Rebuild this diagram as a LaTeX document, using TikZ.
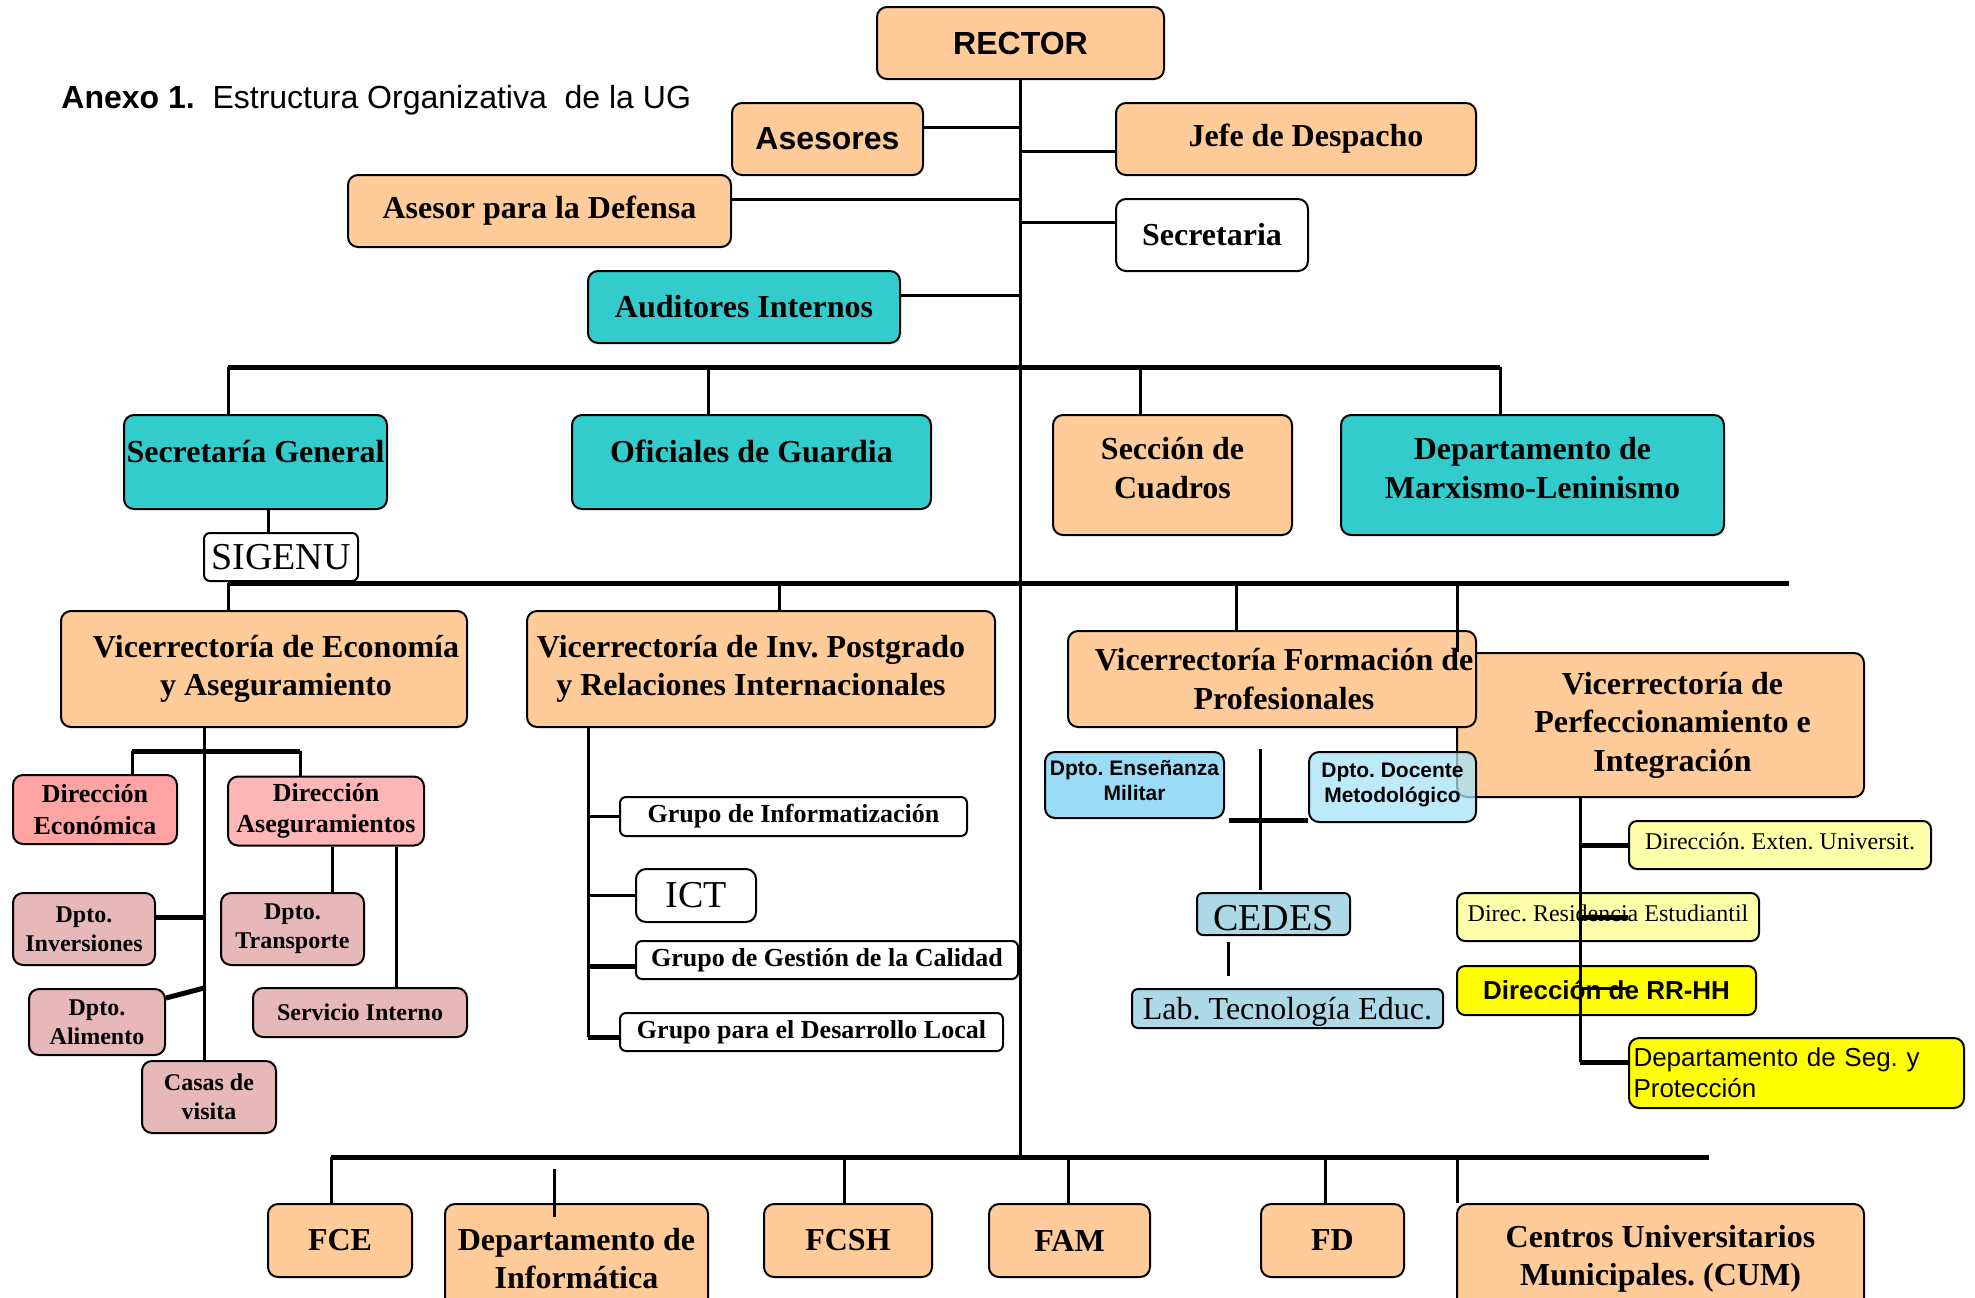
\documentclass[tikz,border=0pt]{standalone}
\usepackage{fontspec}
\setmainfont{Liberation Serif}
\newfontfamily\arialf{Liberation Sans}
\definecolor{peach}{HTML}{FFCC99}
\definecolor{tealc}{HTML}{33CCCC}
\definecolor{cDirEcon}{HTML}{FFA3A3}
\definecolor{cDirAseg}{HTML}{FFB6B6}
\definecolor{cDpto}{HTML}{E6B8B7}
\definecolor{cEns}{HTML}{9ADCF6}
\definecolor{cDoc}{HTML}{A6E3F7}
\definecolor{cCedes}{HTML}{ADD8E6}
\definecolor{cLY}{HTML}{FFFFAA}
\definecolor{cY}{HTML}{FFFF00}
\frenchspacing
\begin{document}
\frenchspacing
\begin{tikzpicture}[x=0.5pt,y=-0.5pt,
  box/.style={draw=black,line width=1pt,rounded corners=5pt,inner sep=1pt,align=center,
              font=\bfseries\fontsize{16}{19.2}\selectfont},
  sz/.style 2 args={minimum width=#1*0.5pt,minimum height=#2*0.5pt},
  pe/.style={fill=peach}, te/.style={fill=tealc}, wh/.style={fill=white},
  sm/.style={font=\bfseries\fontsize{13}{15.6}\selectfont},
  xs/.style={font=\bfseries\fontsize{12}{14.4}\selectfont},
  reg12/.style={font=\fontsize{12}{14.4}\selectfont},
  big19/.style={font=\fontsize{19}{22}\selectfont},
  conn/.style={line width=1.5pt},
  bar/.style={line width=2.5pt},
  thinl/.style={line width=1.1pt}]
\useasboundingbox (0,0) rectangle (1975,1297);
\clip (0,0) rectangle (1975,1297);

\node[anchor=west,inner sep=0pt,font=\arialf\fontsize{16}{19}\selectfont] (title) at (61,100)
  {\textbf{Anexo 1.}\ \ Estructura Organizativa\ \ de la UG};

% top level
\node[box,pe,sz={287}{72},font=\arialf\bfseries\fontsize{16}{19.2}\selectfont] (rector) at (1020.5,43) {RECTOR};
\node[box,pe,sz={191}{72},font=\arialf\bfseries\fontsize{16}{19.2}\selectfont] (asesores) at (827.5,139) {Asesores};
\node[box,pe,sz={383}{72}] (defensa) at (539.5,211) {Asesor para la Defensa};
\node[box,te,sz={312}{72}] (auditores) at (744,307) {Auditores Internos};
\node[box,pe,sz={360}{72}] (jefe) at (1296,139) {\rule{10pt}{0pt}Jefe de Despacho};
\node[box,wh,sz={192}{72}] (secretaria) at (1212,235) {Secretaria};

\node[box,te,sz={263}{94},text height=12pt,text depth=12pt] (secgen) at (255.5,462) {Secretaría General};
\node[box,te,sz={359}{94},text height=12pt,text depth=12pt] (oficiales) at (751.5,462) {Oficiales de Guardia};
\node[box,pe,sz={239}{120}] (seccion) at (1172.5,475) {Sección de\\Cuadros\\[-12pt]\mbox{}};
\node[box,te,sz={383}{120}] (marx) at (1532.5,475) {Departamento de\\Marxismo-Leninismo\\[-12pt]\mbox{}};
\node[box,wh,sz={154}{48},big19,rounded corners=3pt] (sigenu) at (281,557) {SIGENU};

% vicerrectorias
\node[box,pe,sz={406}{116}] (vrecon) at (264,669) {\rule{12pt}{0pt}Vicerrectoría de Economía\\\rule{12pt}{0pt}y Aseguramiento};
\node[box,pe,sz={468}{116}] (vrinv) at (761,669) {Vicerrectoría de Inv. Postgrado\rule{10pt}{0pt}\\y Relaciones Internacionales\rule{10pt}{0pt}};
\node[box,pe,sz={407}{144}] (vrperf) at (1660.5,725) {\rule{12pt}{0pt}Vicerrectoría de\\\rule{12pt}{0pt}Perfeccionamiento e\\\rule{12pt}{0pt}Integración};
\node[box,pe,sz={408}{96}] (vrform) at (1272,679) {\rule{12pt}{0pt}Vicerrectoría Formación de\\\rule{12pt}{0pt}Profesionales};

% economia subtree
\node[box,fill=cDirEcon,sz={164}{69},sm] (direcon) at (95,809.5) {Dirección\\Económica};
\node[box,fill=cDirAseg,sz={196}{69},sm] (diraseg) at (326,811) {Dirección\\Aseguramientos};
\node[box,fill=cDpto,sz={142}{72},xs] (inversiones) at (84,929) {Dpto.\\Inversiones};
\node[box,fill=cDpto,sz={143}{72},xs] (transporte) at (292.5,929) {Dpto.\\Transporte};
\node[box,fill=cDpto,sz={214}{49},xs] (servicio) at (360,1012.5) {Servicio Interno};
\node[box,fill=cDpto,sz={136}{66},xs] (alimento) at (97,1022) {Dpto.\\Alimento};
\node[box,fill=cDpto,sz={134}{72},xs] (casas) at (209,1097) {Casas de\\visita};

% investigacion subtree
\node[box,wh,sz={347}{39},sm,rounded corners=3pt] (info) at (793.5,816.5) {Grupo de Informatización};
\node[box,wh,sz={120}{53},big19] (ict) at (696,895.5) {ICT};
\node[box,wh,sz={382}{38},sm,rounded corners=3pt] (calidad) at (827,960) {Grupo de Gestión de la Calidad};
\node[box,wh,sz={383}{38},sm,rounded corners=3pt] (desarrollo) at (811.5,1032) {Grupo para el Desarrollo Local};

% formacion subtree
\node[box,fill=cEns,sz={179}{66},font=\arialf\bfseries\fontsize{10.5}{12.6}\selectfont] (ensenanza) at (1134.5,785) {Dpto. Enseñanza\\Militar\\[-8pt]\mbox{}};
\node[box,fill=cDoc,fill opacity=0.75,text opacity=1,sz={167}{70},font=\arialf\bfseries\fontsize{10.5}{12.6}\selectfont] (docente) at (1392.5,787) {Dpto. Docente\\Metodológico\\[-8pt]\mbox{}};
\node[box,fill=cCedes,sz={153}{42},big19,rounded corners=3pt,text height=16.5pt,text depth=0pt] (cedes) at (1273.5,914) {CEDES};
\node[box,fill=cCedes,sz={311}{39},font=\fontsize{16}{19}\selectfont,rounded corners=3pt,text depth=0pt] (lab) at (1287.5,1008.5) {Lab. Tecnología Educ.};

% perfeccionamiento subtree
\node[box,fill=cLY,sz={302}{48},reg12,rounded corners=4pt,text height=9pt,text depth=5pt] (exten) at (1780,845) {Dirección. Exten. Universit.};
\node[box,fill=cLY,sz={302}{48},reg12,rounded corners=4pt,text height=9pt,text depth=5pt] (residencia) at (1608,917) {Direc. Residencia Estudiantil};
\node[box,fill=cY,sz={299}{49},font=\arialf\bfseries\fontsize{13}{15.6}\selectfont,rounded corners=4pt] (rrhh) at (1606.5,990.5) {Dirección de RR-HH};
\node[box,fill=cY,sz={335}{70},font=\arialf\fontsize{13}{15.6}\selectfont,text width=163pt,align=left,inner sep=2pt] (seg) at (1796.5,1073) {Departamento de Seg. y\\Protección};

% bottom row
\node[box,pe,sz={144}{73}] (fce) at (340,1240.5) {FCE};
\node[box,pe,sz={263}{109}] (inform) at (576.5,1258.5) {Departamento de\\Informática};
\node[box,pe,sz={168}{73}] (fcsh) at (848,1240.5) {FCSH};
\node[box,pe,sz={161}{73}] (fam) at (1069.5,1240.5) {FAM};
\node[box,pe,sz={143}{73}] (fd) at (1332.5,1240.5) {FD};
\node[box,pe,sz={407}{109}] (cum) at (1660.5,1258.5) {Centros Universitarios\\Municipales. (CUM)};

% ---------- connectors ----------
\coordinate (bB) at (1020.5,1157);
\draw[conn] (rector.south) -- (rector.south|-bB);
\coordinate (tA) at (1020.5,127);
\coordinate (tD) at (1020.5,199);
\coordinate (tI) at (1020.5,295);
\coordinate (tJ) at (1020.5,151);
\coordinate (tS) at (1020.5,222);
\draw[conn] (asesores.east|-tA) -- (tA);
\draw[conn] (defensa.east|-tD) -- (tD);
\draw[conn] (auditores.east|-tI) -- (tI);
\draw[conn] (tJ) -- (jefe.west|-tJ);
\draw[conn] (tS) -- (secretaria.west|-tS);

% bar 1
\coordinate (b1a) at (228,367);
\coordinate (b1b) at (708,367);
\coordinate (b1c) at (1140,367);
\coordinate (b1d) at (1500,367);
\draw[bar] (b1a) -- (b1d);
\draw[conn] (b1a) -- (b1a|-secgen.north);
\draw[conn] (b1b) -- (b1b|-oficiales.north);
\draw[conn] (b1c) -- (b1c|-seccion.north);
\draw[conn] (b1d) -- (b1d|-marx.north);

\coordinate (sg) at (268,0);
\draw[conn] (secgen.south-|sg) -- (sigenu.north-|sg);

% bar 2
\coordinate (b2a) at (228,583);
\coordinate (b2b) at (779,583);
\coordinate (b2c) at (1236,583);
\coordinate (b2d) at (1457,583);
\coordinate (b2e) at (1789,583);
\draw[bar] (b2a) -- (b2e);
\draw[conn] (b2a) -- (b2a|-vrecon.north);
\draw[conn] (b2b) -- (b2b|-vrinv.north);
\draw[conn] (b2c) -- (b2c|-vrform.north);
\draw[conn] (b2d) -- (b2d|-vrperf.north);

% economia
\coordinate (ea) at (204,0);
\draw[conn] (vrecon.south-|ea) -- (casas.north-|ea);
\coordinate (eb1) at (132,751);
\coordinate (eb2) at (300,751);
\draw[bar] (eb1) -- (eb2);
\draw[conn] (eb1) -- (eb1|-direcon.north);
\draw[conn] (eb2) -- (eb2|-diraseg.north);
\coordinate (ei) at (204,917);
\draw[bar] (inversiones.east|-ei) -- (ei);
\coordinate (eal) at (204,988);
\coordinate (eal2) at (0,998);
\draw[bar] (alimento.east|-eal2) -- (eal);
\coordinate (et) at (332,0);
\draw[conn] (diraseg.south-|et) -- (transporte.north-|et);
\coordinate (es) at (396,0);
\draw[conn] (diraseg.south-|es) -- (servicio.north-|es);

% investigacion
\coordinate (ia) at (588,0);
\coordinate (iL) at (588,1037);
\draw[conn] (vrinv.south-|ia) -- (iL);
\draw[bar] (iL) -- (desarrollo.west|-iL);
\draw[thinl] (ia|-info.west) -- (info.west);
\draw[thinl] (ia|-ict.west) -- (ict.west);
\coordinate (ic) at (0,966);
\draw[bar] (ia|-ic) -- (calidad.west|-ic);

% formacion
\coordinate (fa) at (1260,749);
\coordinate (fb) at (1260,890);
\draw[conn] (fa) -- (fb);
\coordinate (fc) at (1229,820);
\draw[bar] (fc) -- (docente.west|-fc);
\coordinate (fl) at (1228,0);
\draw[conn,shorten <=3pt,shorten >=6pt] (cedes.south-|fl) -- (lab.north-|fl);

% perfeccionamiento
\coordinate (pa) at (1580,0);
\coordinate (ps) at (1580,1062);
\draw[conn] (vrperf.south-|pa) -- (ps);
\draw[bar] (pa|-exten.west) -- (exten.west);
\coordinate (pr) at (1628,917);
\draw[bar] (pa|-pr) -- (pr);
\coordinate (ph) at (1628,988);
\draw[conn] (pa|-ph) -- (ph);
\draw[bar] (ps) -- (seg.west|-ps);

% bottom bar
\coordinate (bL) at (331,1157);
\coordinate (bR) at (1709,1157);
\draw[bar] (bL) -- (bR);
\draw[conn] (bL) -- (bL|-fce.north);
\coordinate (bs) at (844,1157);
\coordinate (bm) at (1068,1157);
\coordinate (bd) at (1325,1157);
\coordinate (bc) at (1457,1157);
\draw[conn] (bs) -- (bs|-fcsh.north);
\draw[conn] (bm) -- (bm|-fam.north);
\draw[conn] (bd) -- (bd|-fd.north);
\draw[conn] (bc) -- (bc|-cum.north);
\coordinate (if1) at (554,1169);
\coordinate (if2) at (554,1217);
\draw[conn] (if1) -- (if2);
\end{tikzpicture}
\end{document}
